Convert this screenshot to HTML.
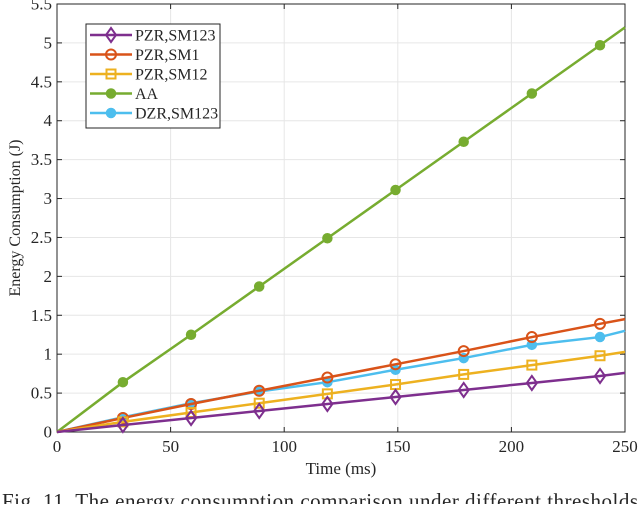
<!DOCTYPE html>
<html><head><meta charset="utf-8"><style>
body{margin:0;background:#fff;width:640px;height:504px;overflow:hidden}
svg text{font-family:"Liberation Serif",serif;fill:#262626}
</style></head><body>
<svg id="chart" width="640" height="504" xmlns="http://www.w3.org/2000/svg"></svg>
<script>
const times=[0,29,59,89,119,149,179,209,239,250];
const seriesNames=["PZR,SM123","PZR,SM1","PZR,SM12","AA","DZR,SM123"];
const pzr123=[0,0.09,0.18,0.27,0.36,0.45,0.54,0.63,0.72,0.76];
const pzr1=[0,0.18,0.36,0.53,0.70,0.87,1.04,1.22,1.39,1.45];
const pzr12=[0,0.13,0.25,0.37,0.49,0.61,0.74,0.86,0.98,1.03];
const aa=[0,0.64,1.25,1.87,2.49,3.11,3.73,4.35,4.97,5.2];
const dzr=[0,0.19,0.37,0.52,0.64,0.80,0.95,1.12,1.22,1.30];
const xTicks=[0,50,100,150,200,250];
const yTicks=[0,0.5,1,1.5,2,2.5,3,3.5,4,4.5,5,5.5];
const NS="http://www.w3.org/2000/svg";
const svg=document.getElementById('chart');
const L=57,R=625,T=4,B=432;
const X=v=>L+(v/250)*(R-L);
const Y=v=>B-(v/5.5)*(B-T);
function mk(tag,attrs,parent){const e=document.createElementNS(NS,tag);for(const k in attrs)e.setAttribute(k,attrs[k]);(parent||svg).appendChild(e);return e;}
const grid=mk('g',{});


xTicks.forEach(t=>{mk('line',{x1:X(t),x2:X(t),y1:T,y2:B,stroke:'#e6e6e6','stroke-width':1},grid);});
yTicks.forEach(t=>{mk('line',{x1:L,x2:R,y1:Y(t),y2:Y(t),stroke:'#e6e6e6','stroke-width':1},grid);});
const ax=mk('rect',{x:L,y:T,width:R-L,height:B-T,fill:'none',stroke:'#262626','stroke-width':1});


xTicks.forEach(t=>{
 mk('line',{x1:X(t),x2:X(t),y1:B,y2:B-5,stroke:'#262626'});
 mk('line',{x1:X(t),x2:X(t),y1:T,y2:T+5,stroke:'#262626'});
 const tx=mk('text',{x:X(t),y:B+20,'text-anchor':'middle','font-size':17});tx.textContent=t;
 
 
});
yTicks.forEach(t=>{
 mk('line',{x1:L,x2:L+5,y1:Y(t),y2:Y(t),stroke:'#262626'});
 mk('line',{x1:R,x2:R-5,y1:Y(t),y2:Y(t),stroke:'#262626'});
 const tx=mk('text',{x:L-5,y:Y(t)+5.5,'text-anchor':'end','font-size':17});tx.textContent=t;
 
 
});
const xt=mk('text',{x:(L+R)/2,y:B+42,'text-anchor':'middle','font-size':17});xt.textContent='Time (ms)';


const yt=mk('text',{x:0,y:0,'text-anchor':'middle','font-size':16,transform:`translate(20,${(T+B)/2}) rotate(-90)`});yt.textContent='Energy Consumption (J)';


const cap=mk('text',{x:2,y:508,'font-size':21,textLength:636,lengthAdjust:'spacing'});cap.textContent='Fig. 11. The energy consumption comparison under different thresholds';


const colors=['#7e2f8e','#d95319','#edb120','#77ac30','#4dbeee'];
const markers=['diamond','circle','square','star','star'];
function marker(type,x,y,c,g){
 if(type==='diamond')mk('polygon',{points:`${x},${y-7} ${x+5},${y} ${x},${y+7} ${x-5},${y}`,fill:'none',stroke:c,'stroke-width':2},g);
 else if(type==='circle')mk('circle',{cx:x,cy:y,r:5,fill:'none',stroke:c,'stroke-width':2},g);
 else if(type==='square')mk('rect',{x:x-4.5,y:y-4.5,width:9,height:9,fill:'none',stroke:c,'stroke-width':2},g);
 else mk('circle',{cx:x,cy:y,r:4.5,fill:c,stroke:c,'stroke-width':1.5},g);
}
const all=[pzr123,pzr1,pzr12,aa,dzr];
const order=[3,4,1,2,0];
order.forEach(i=>{
 const g=mk('g',{});
 
 
 mk('polyline',{points:all[i].map((v,j)=>X(times[j])+','+Y(v)).join(' '),fill:'none',stroke:colors[i],'stroke-width':2.5},g);
 all[i].forEach((v,j)=>{if(j>0&&j<times.length-1)marker(markers[i],X(times[j]),Y(v),colors[i],g);});
});
const lg=mk('g',{});


mk('rect',{x:86,y:24,width:134,height:104,fill:'#fff',stroke:'#262626','stroke-width':1},lg);
seriesNames.forEach((n,i)=>{
 const y=35+i*19.5;
 const e=mk('g',{},lg);
 
 
 mk('line',{x1:90,x2:132,y1:y,y2:y,stroke:colors[i],'stroke-width':2.5},e);
 marker(markers[i],111,y,colors[i],e);
 const t=mk('text',{x:135,y:y+5.5,'font-size':16},e);t.textContent=n;
});
</script>
</body></html>
